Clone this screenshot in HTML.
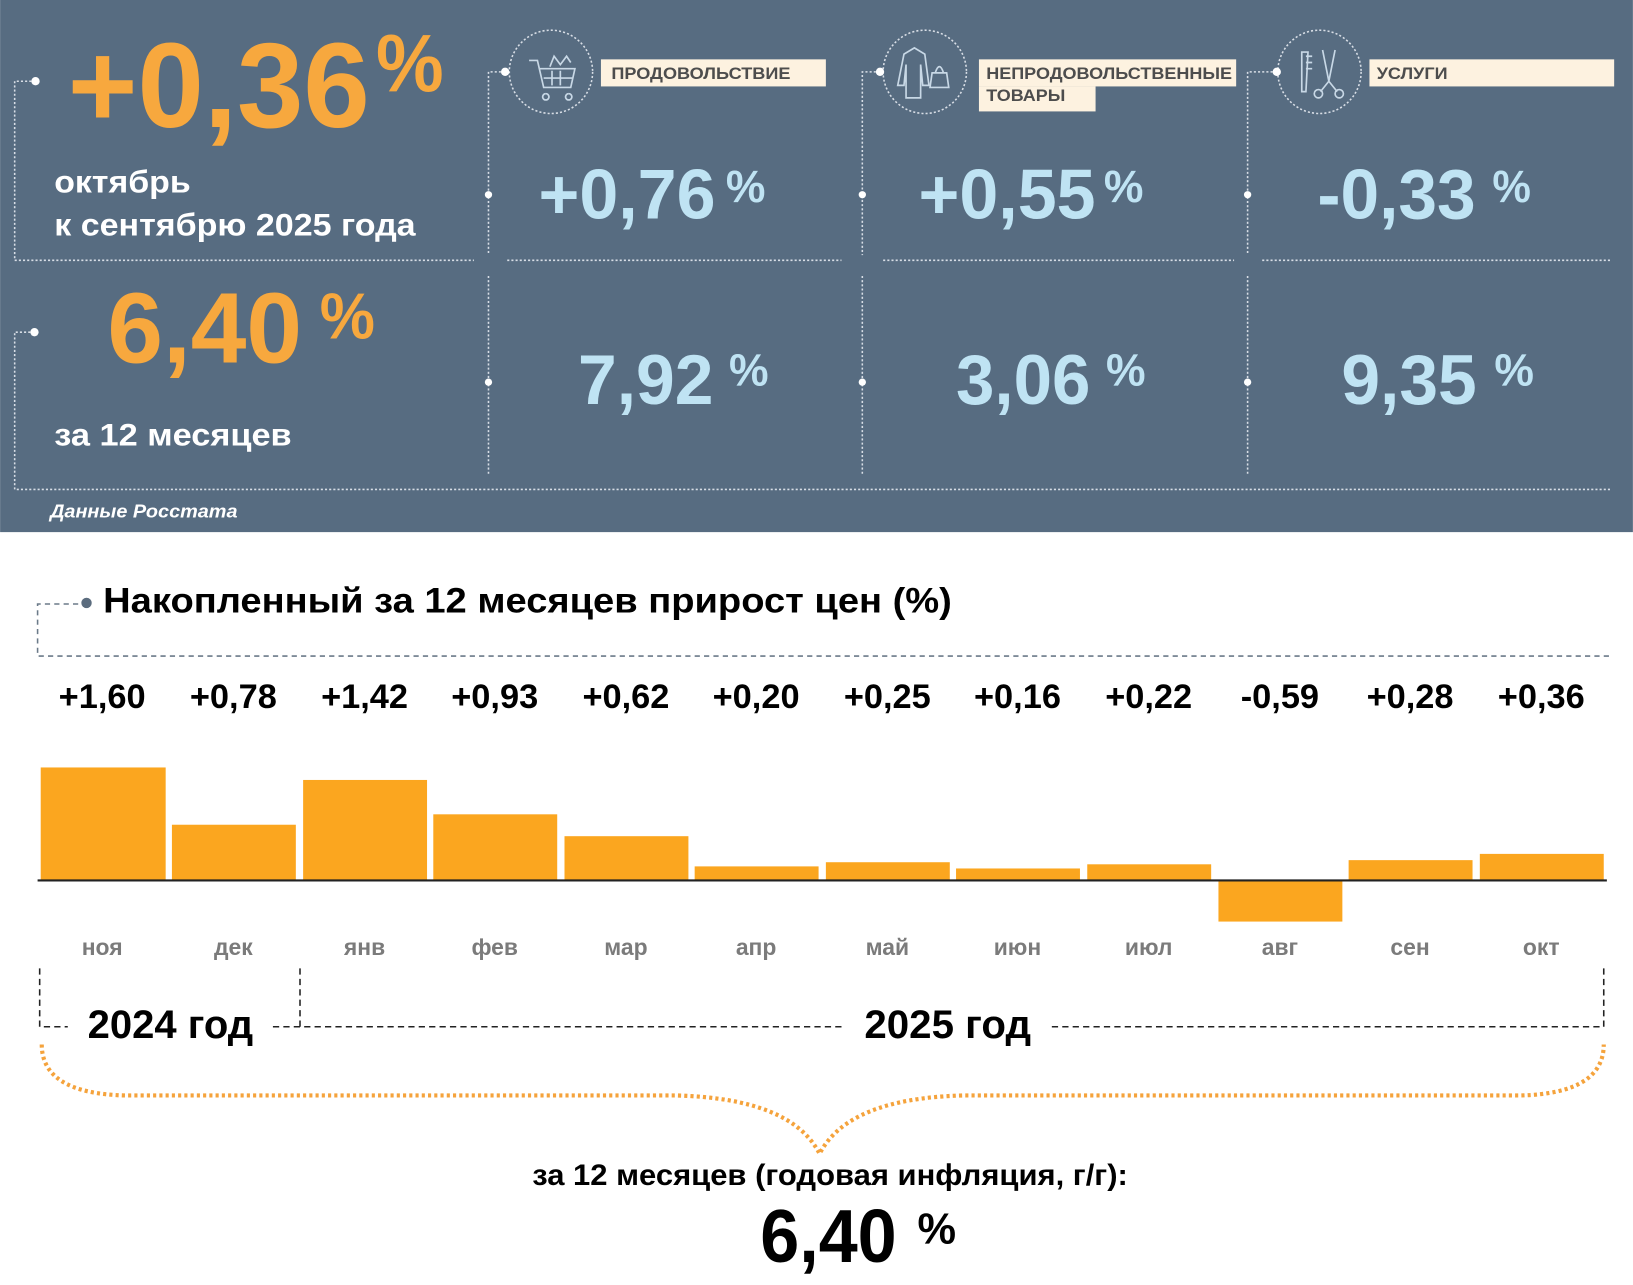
<!DOCTYPE html>
<html><head><meta charset="utf-8"><style>
html,body{margin:0;padding:0;background:#fff}
svg{display:block}
text{font-family:"Liberation Sans","DejaVu Sans",sans-serif;font-weight:bold}
</style></head><body>
<svg width="1633" height="1285" viewBox="0 0 1568 1234" xmlns="http://www.w3.org/2000/svg">
<rect x="0" y="0" width="1568" height="511" fill="#576c81"/>
<g stroke="#d8dee6" stroke-width="1.5" stroke-dasharray="2 2" fill="none">
<path d="M34 78H14V250H455"/>
<path d="M33 319H14V470H1548"/>
<path d="M485 69H469V245"/><path d="M469 265V455"/><path d="M487 250H808"/>
<path d="M845 69H828V245"/><path d="M828 265V455"/><path d="M848 250H1185"/>
<path d="M1226 69H1198V245"/><path d="M1198 265V455"/><path d="M1212 250H1548"/>
<circle cx="529" cy="69" r="40"/><circle cx="888" cy="69" r="40"/><circle cx="1267" cy="69" r="40"/>
</g>
<g fill="#fff">
<circle cx="34" cy="78" r="4"/><circle cx="33" cy="319" r="4"/>
<circle cx="485" cy="69" r="4"/><circle cx="845" cy="69" r="4"/><circle cx="1226" cy="69" r="4"/>
<circle cx="469" cy="187" r="3.5"/><circle cx="469" cy="367" r="3.5"/>
<circle cx="828" cy="187" r="3.5"/><circle cx="828" cy="367" r="3.5"/>
<circle cx="1198" cy="187" r="3.5"/><circle cx="1198" cy="367" r="3.5"/>
</g>
<!-- icons -->
<g stroke="#c8d8e6" stroke-width="1.6" fill="none">
<path d="M508 58h8l6 26h26l4-18h-34M524 90a3 3 0 1 0 0.1 0M546 90a3 3 0 1 0 0.1 0M530 68v14M538 68v14M522 75h28"/>
<path d="M528 64l4-10 6 8 6-8 4 6"/>
<path d="M868 52l10-6 10 6 4 30h-6l-2-20v32h-14v-32l-2 20h-6z"/>
<path d="M895 70h14l2 14h-18zM898 70q4-12 8 0"/>
<path d="M1250 50l6 0-2 38h-4zM1254 54h6M1254 60h6M1254 66h6"/>
<path d="M1270 48l6 30M1282 48l-6 30M1276 78l-8 10M1276 78l8 10"/>
<circle cx="1266" cy="90" r="4"/><circle cx="1286" cy="90" r="4"/>
</g>
<!-- label boxes -->
<rect x="577" y="57" width="216" height="26" fill="#fdf2e0"/>
<rect x="940" y="57" width="247" height="26" fill="#fdf2e0"/>
<rect x="940" y="83" width="112" height="24" fill="#fdf2e0"/>
<rect x="1315" y="57" width="235" height="26" fill="#fdf2e0"/>
<g fill="#4d4d4d" font-size="16">
<text x="587" y="76" textLength="172" lengthAdjust="spacingAndGlyphs">ПРОДОВОЛЬСТВИЕ</text>
<text x="947" y="76" textLength="236" lengthAdjust="spacingAndGlyphs">НЕПРОДОВОЛЬСТВЕННЫЕ</text>
<text x="947" y="97" textLength="76" lengthAdjust="spacingAndGlyphs">ТОВАРЫ</text>
<text x="1322" y="76" textLength="68" lengthAdjust="spacingAndGlyphs">УСЛУГИ</text>
</g>
<!-- main numbers -->
<g fill="#f7a83e">
<text x="65" y="122" font-size="116" textLength="290" lengthAdjust="spacingAndGlyphs">+0,36</text>
<text x="361" y="88" font-size="78" textLength="65" lengthAdjust="spacingAndGlyphs">%</text>
<text x="103" y="348" font-size="96" textLength="187" lengthAdjust="spacingAndGlyphs">6,40</text>
<text x="307" y="325" font-size="62" textLength="53" lengthAdjust="spacingAndGlyphs">%</text>
</g>
<g fill="#fff" font-size="30">
<text x="52" y="185" textLength="131" lengthAdjust="spacingAndGlyphs">октябрь</text>
<text x="52" y="226" textLength="347" lengthAdjust="spacingAndGlyphs">к сентябрю 2025 года</text>
<text x="52" y="428" textLength="228" lengthAdjust="spacingAndGlyphs">за 12 месяцев</text>
<text x="48" y="497" font-size="18" font-style="italic" textLength="180" lengthAdjust="spacingAndGlyphs">Данные Росстата</text>
</g>
<g fill="#bfe3f3">
<text x="517" y="210" font-size="68" textLength="170" lengthAdjust="spacingAndGlyphs">+0,76</text>
<text x="697" y="194" font-size="44" textLength="38" lengthAdjust="spacingAndGlyphs">%</text>
<text x="882" y="210" font-size="68" textLength="170" lengthAdjust="spacingAndGlyphs">+0,55</text>
<text x="1060" y="194" font-size="44" textLength="38" lengthAdjust="spacingAndGlyphs">%</text>
<text x="1265" y="210" font-size="68" textLength="152" lengthAdjust="spacingAndGlyphs">-0,33</text>
<text x="1433" y="194" font-size="44" textLength="37" lengthAdjust="spacingAndGlyphs">%</text>
<text x="555" y="388" font-size="68" textLength="130" lengthAdjust="spacingAndGlyphs">7,92</text>
<text x="700" y="370" font-size="44" textLength="38" lengthAdjust="spacingAndGlyphs">%</text>
<text x="918" y="388" font-size="68" textLength="129" lengthAdjust="spacingAndGlyphs">3,06</text>
<text x="1062" y="370" font-size="44" textLength="38" lengthAdjust="spacingAndGlyphs">%</text>
<text x="1288" y="388" font-size="68" textLength="130" lengthAdjust="spacingAndGlyphs">9,35</text>
<text x="1435" y="370" font-size="44" textLength="38" lengthAdjust="spacingAndGlyphs">%</text>
</g>
<!-- lower section -->
<g stroke="#6b7a89" stroke-width="1.5" stroke-dasharray="5 4" fill="none">
<path d="M75 580H36V630H1545"/>
</g>
<circle cx="83" cy="579" r="5" fill="#5b6c7e"/>
<text x="99" y="588" font-size="34" fill="#000" textLength="815" lengthAdjust="spacingAndGlyphs">Накопленный за 12 месяцев прирост цен (%)</text>
<g font-size="33" fill="#000" text-anchor="middle">
<text x="98" y="680">+1,60</text><text x="224" y="680">+0,78</text><text x="350" y="680">+1,42</text>
<text x="475" y="680">+0,93</text><text x="601" y="680">+0,62</text><text x="726" y="680">+0,20</text>
<text x="852" y="680">+0,25</text><text x="977" y="680">+0,16</text><text x="1103" y="680">+0,22</text>
<text x="1229" y="680">-0,59</text><text x="1354" y="680">+0,28</text><text x="1480" y="680">+0,36</text>
</g>
<g fill="#fba61f">
<rect x="39" y="737" width="120" height="108"/>
<rect x="165" y="792" width="119" height="53"/>
<rect x="291" y="749" width="119" height="96"/>
<rect x="416" y="782" width="119" height="63"/>
<rect x="542" y="803" width="119" height="42"/>
<rect x="667" y="832" width="119" height="13"/>
<rect x="793" y="828" width="119" height="17"/>
<rect x="918" y="834" width="119" height="11"/>
<rect x="1044" y="830" width="119" height="15"/>
<rect x="1170" y="845" width="119" height="40"/>
<rect x="1295" y="826" width="119" height="19"/>
<rect x="1421" y="820" width="119" height="25"/>
</g>
<line x1="36" y1="845.5" x2="1543" y2="845.5" stroke="#222" stroke-width="2"/>
<g font-size="22" fill="#7b7b7b" text-anchor="middle">
<text x="98" y="917">ноя</text><text x="224" y="917">дек</text><text x="350" y="917">янв</text>
<text x="475" y="917">фев</text><text x="601" y="917">мар</text><text x="726" y="917">апр</text>
<text x="852" y="917">май</text><text x="977" y="917">июн</text><text x="1103" y="917">июл</text>
<text x="1229" y="917">авг</text><text x="1354" y="917">сен</text><text x="1480" y="917">окт</text>
</g>
<g stroke="#222" stroke-width="1.5" stroke-dasharray="6 4" fill="none">
<path d="M38 930V986H65"/><path d="M288 930V986"/><path d="M262 986H810"/><path d="M1010 986H1540V930"/>
</g>
<g font-size="38" fill="#000">
<text x="84" y="997" textLength="159" lengthAdjust="spacingAndGlyphs">2024 год</text>
<text x="830" y="997" textLength="160" lengthAdjust="spacingAndGlyphs">2025 год</text>
</g>
<path d="M40 1003 Q40 1050 120 1052 L650 1052 Q760 1055 787 1108 Q814 1055 924 1052 L1460 1052 Q1540 1050 1540 1003" stroke="#f5a33c" stroke-width="4" stroke-dasharray="3 3" fill="none"/>
<text x="797" y="1138" font-size="28" fill="#000" text-anchor="middle" textLength="572" lengthAdjust="spacingAndGlyphs">за 12 месяцев (годовая инфляция, г/г):</text>
<text x="730" y="1212" font-size="72" fill="#000" textLength="131" lengthAdjust="spacingAndGlyphs">6,40</text>
<text x="881" y="1194" font-size="42" fill="#000" textLength="37" lengthAdjust="spacingAndGlyphs">%</text>
</svg>
</body></html>
